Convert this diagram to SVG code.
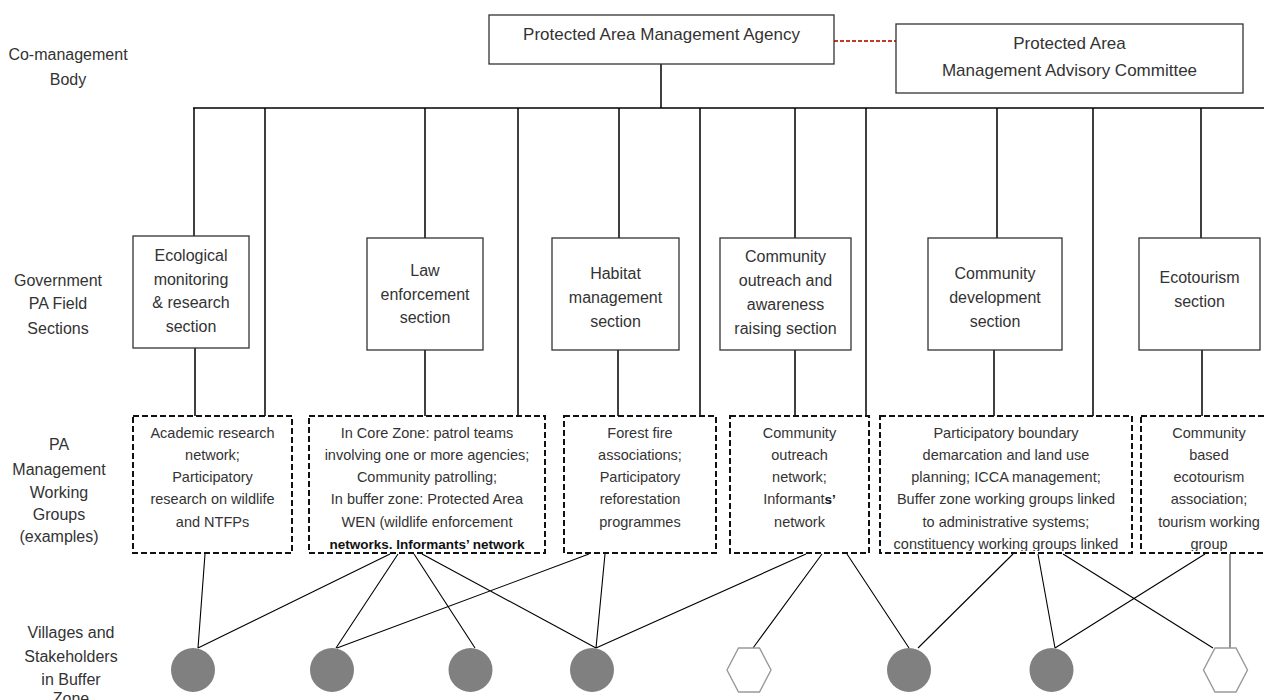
<svg xmlns="http://www.w3.org/2000/svg" width="1264" height="700" viewBox="0 0 1264 700">
<style>
  text { font-family: "Liberation Sans", Arial, sans-serif; fill: #333; text-anchor: middle; }
  .lbl { font-size: 16px; }
  .top { font-size: 17px; }
  .sec text { font-size: 16px; }
  .wgt { font-size: 14.5px; }
  .bold { font-family: "Liberation Sans", Arial, sans-serif; font-weight: bold; font-size: 13.5px; fill: #111; }
  .box { fill: #fff; stroke: #333; stroke-width: 1.3; }
  .wg { fill: #fff; stroke: #111; stroke-width: 2; stroke-dasharray: 6 3; }
  .ln { fill: none; stroke: #000; stroke-width: 1.5; }
  .thin { fill: none; stroke: #000; stroke-width: 1.1; }
  .vil { fill: #808080; }
  .hex { fill: #fff; stroke: #999; stroke-width: 1.4; }
</style>
<defs>
  <clipPath id="clipPart"><rect x="880" y="416" width="252" height="135"/></clipPath>
  <clipPath id="clipEco"><rect x="1141" y="416" width="130" height="135"/></clipPath>
</defs>

<!-- row labels -->
<g id="row-labels">
  <text class="lbl" x="68" y="60">Co-management</text>
  <text class="lbl" x="68" y="85">Body</text>
  <text class="lbl" x="58" y="286">Government</text>
  <text class="lbl" x="58" y="309">PA Field</text>
  <text class="lbl" x="58" y="334">Sections</text>
  <text class="lbl" x="59" y="450">PA</text>
  <text class="lbl" x="59" y="475">Management</text>
  <text class="lbl" x="59" y="498">Working</text>
  <text class="lbl" x="59" y="520">Groups</text>
  <text class="lbl" x="59" y="542">(examples)</text>
  <text class="lbl" x="71" y="638">Villages and</text>
  <text class="lbl" x="71" y="662">Stakeholders</text>
  <text class="lbl" x="71" y="685">in Buffer</text>
  <text class="lbl" x="71" y="704">Zone</text>
</g>

<!-- connectors -->
<g id="connectors">
  <path d="M834 41 H896" fill="none" stroke="#c0392b" stroke-width="2" stroke-dasharray="4 2"/>
  <path class="ln" d="M661 64 V108"/>
  <path class="ln" d="M193 108 H1264" stroke-width="2"/>
  <path class="ln" d="M194 108 V236 M425 108 V238 M619 108 V238 M795 108 V238 M997 108 V238 M1201 108 V238"/>
  <path class="ln" d="M265 108 V416 M518 108 V416 M700 108 V416 M866 108 V416 M1093 108 V416"/>
  <path class="ln" d="M195 348 V416 M425 350 V416 M618 350 V416 M795 350 V416 M994 350 V416 M1202 350 V416"/>
  <path class="thin" d="M205 554 L198 648 M390 554 L198 648 M398 554 L336 648 M414 554 L475 648 M422 554 L596 648
    M589 554 L337 648 M605 554 L596 648 M806 554 L596 648 M822 554 L753 648 M847 554 L909 648
    M1013 554 L918 648 M1038 554 L1055 648 M1063 554 L1213 648 M1205 554 L1055 648"/>
  <path d="M1230 554 V648" fill="none" stroke="#555" stroke-width="1.3"/>
</g>

<!-- co-management body -->
<g id="agency">
  <rect class="box" x="489" y="15" width="345" height="49"/>
  <text class="top" x="661.5" y="40">Protected Area Management Agency</text>
</g>
<g id="advisory">
  <rect class="box" x="896" y="24" width="347" height="69"/>
  <text class="top" x="1069.5" y="49">Protected Area</text>
  <text class="top" x="1069.5" y="76">Management Advisory Committee</text>
</g>

<!-- sections -->
<g id="sec-eco" class="sec">
  <rect class="box" x="133" y="236" width="116" height="112"/>
  <text x="191" y="261">Ecological</text>
  <text x="191" y="285">monitoring</text>
  <text x="191" y="308">&amp; research</text>
  <text x="191" y="332">section</text>
</g>
<g id="sec-law" class="sec">
  <rect class="box" x="367" y="238" width="116" height="112"/>
  <text x="425" y="276">Law</text>
  <text x="425" y="300">enforcement</text>
  <text x="425" y="323">section</text>
</g>
<g id="sec-habitat" class="sec">
  <rect class="box" x="552" y="238" width="127" height="112"/>
  <text x="615.5" y="279">Habitat</text>
  <text x="615.5" y="303">management</text>
  <text x="615.5" y="327">section</text>
</g>
<g id="sec-outreach" class="sec">
  <rect class="box" x="720" y="238" width="131" height="112"/>
  <text x="785.5" y="262">Community</text>
  <text x="785.5" y="286">outreach and</text>
  <text x="785.5" y="310">awareness</text>
  <text x="785.5" y="334">raising section</text>
</g>
<g id="sec-commdev" class="sec">
  <rect class="box" x="928" y="238" width="134" height="112"/>
  <text x="995" y="279">Community</text>
  <text x="995" y="303">development</text>
  <text x="995" y="327">section</text>
</g>
<g id="sec-ecotourism" class="sec">
  <rect class="box" x="1139" y="238" width="121" height="112"/>
  <text x="1199.5" y="283">Ecotourism</text>
  <text x="1199.5" y="307">section</text>
</g>

<!-- working groups -->
<g id="wg-academic">
  <rect class="wg" x="133" y="416" width="159" height="137"/>
  <text class="wgt" x="212.5" y="438">Academic research</text>
  <text class="wgt" x="212.5" y="460">network;</text>
  <text class="wgt" x="212.5" y="482">Participatory</text>
  <text class="wgt" x="212.5" y="504">research on wildlife</text>
  <text class="wgt" x="212.5" y="527">and NTFPs</text>
</g>
<g id="wg-law">
  <rect class="wg" x="309" y="416" width="236" height="137"/>
  <text class="wgt" x="427" y="438">In Core Zone: patrol teams</text>
  <text class="wgt" x="427" y="460">involving one or more agencies;</text>
  <text class="wgt" x="427" y="482">Community patrolling;</text>
  <text class="wgt" x="427" y="504">In buffer zone: Protected Area</text>
  <text class="wgt" x="427" y="527">WEN (wildlife enforcement</text>
  <text class="bold" x="427" y="549">networks. Informants’ network</text>
</g>
<g id="wg-forest">
  <rect class="wg" x="564" y="416" width="152" height="137"/>
  <text class="wgt" x="640" y="438">Forest fire</text>
  <text class="wgt" x="640" y="460">associations;</text>
  <text class="wgt" x="640" y="482">Participatory</text>
  <text class="wgt" x="640" y="504">reforestation</text>
  <text class="wgt" x="640" y="527">programmes</text>
</g>
<g id="wg-outreach">
  <rect class="wg" x="730" y="416" width="139" height="137"/>
  <text class="wgt" x="799.5" y="438">Community</text>
  <text class="wgt" x="799.5" y="460">outreach</text>
  <text class="wgt" x="799.5" y="482">network;</text>
  <text class="wgt" x="799.5" y="504">Informant<tspan class="bold">s’</tspan></text>
  <text class="wgt" x="799.5" y="527">network</text>
</g>
<g id="wg-participatory">
  <rect class="wg" x="880" y="416" width="252" height="137"/>
  <g clip-path="url(#clipPart)">
    <text class="wgt" x="1006" y="438">Participatory boundary</text>
    <text class="wgt" x="1006" y="460">demarcation and land use</text>
    <text class="wgt" x="1006" y="482">planning; ICCA management;</text>
    <text class="wgt" x="1006" y="504">Buffer zone working groups linked</text>
    <text class="wgt" x="1006" y="527">to administrative systems;</text>
    <text class="wgt" x="1006" y="549">constituency working groups linked</text>
  </g>
</g>
<g id="wg-ecotourism">
  <rect class="wg" x="1141" y="416" width="150" height="137"/>
  <g clip-path="url(#clipEco)">
    <text class="wgt" x="1209" y="438">Community</text>
    <text class="wgt" x="1209" y="460">based</text>
    <text class="wgt" x="1209" y="482">ecotourism</text>
    <text class="wgt" x="1209" y="504">association;</text>
    <text class="wgt" x="1209" y="527">tourism working</text>
    <text class="wgt" x="1209" y="549">group</text>
  </g>
</g>

<!-- villages and stakeholders -->
<g id="village-1"><circle class="vil" cx="193" cy="670" r="22"/></g>
<g id="village-2"><circle class="vil" cx="332" cy="670" r="22"/></g>
<g id="village-3"><circle class="vil" cx="470.5" cy="670" r="22"/></g>
<g id="village-4"><circle class="vil" cx="592" cy="670" r="22"/></g>
<g id="stakeholder-1"><polygon class="hex" points="727,670 738.5,648 759.5,648 771,670 759.5,692 738.5,692"/></g>
<g id="village-5"><circle class="vil" cx="909" cy="670" r="22"/></g>
<g id="village-6"><circle class="vil" cx="1051.5" cy="670" r="22"/></g>
<g id="stakeholder-2"><polygon class="hex" points="1203.5,670 1215,648 1236,648 1247.5,670 1236,692 1215,692"/></g>
</svg>
